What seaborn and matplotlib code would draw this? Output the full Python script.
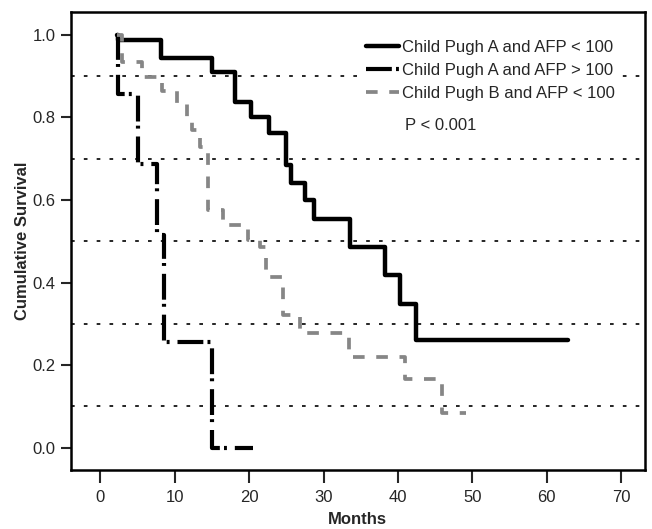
import numpy as np
import pandas as pd
import matplotlib
matplotlib.use('Agg')
import matplotlib.pyplot as plt
import seaborn as sns

# Kaplan-Meier steps (months, cumulative survival)
a_low_months = [2.2, 2.4, 8.1, 15.0, 18.1, 20.3, 22.7, 24.9, 25.6, 27.5, 28.7, 33.5, 38.3, 40.3, 42.4, 62.9]
a_low_surv = [1.0, 0.987, 0.943, 0.910, 0.838, 0.800, 0.761, 0.684, 0.642, 0.600, 0.555, 0.485, 0.418, 0.348, 0.260, 0.260]

a_high_months = [2.2, 2.4, 5.1, 7.6, 8.5, 15.0, 20.5]
a_high_surv = [1.0, 0.857, 0.686, 0.514, 0.257, 0.0, 0.0]

b_low_months = [2.2, 2.9, 5.6, 8.3, 10.3, 11.6, 12.3, 13.4, 14.5, 16.5, 19.9, 21.5, 22.3, 24.5, 26.8, 33.4, 40.9, 45.9, 49.2]
b_low_surv = [1.0, 0.935, 0.898, 0.865, 0.835, 0.800, 0.770, 0.728, 0.575, 0.539, 0.503, 0.485, 0.414, 0.321, 0.277, 0.220, 0.166, 0.085, 0.085]

group_labels = ['Child Pugh A and AFP < 100', 'Child Pugh A and AFP > 100', 'Child Pugh B and AFP < 100']
ref_levels = [0.1, 0.3, 0.5, 0.7, 0.9]
x_ticks = [0, 10, 20, 30, 40, 50, 60, 70]
y_ticks = [0.0, 0.2, 0.4, 0.6, 0.8, 1.0]

sns.set_style('white')
plt.rcParams['font.family'] = ['Liberation Sans', 'DejaVu Sans']

fig = plt.figure(figsize=(6.52, 5.29), dpi=100)
ax = fig.add_axes([0.1085, 0.1115, 0.8805, 0.8665])

styles = [
    dict(color='black', lw=3.2, linestyle='-'),
    dict(color='black', lw=3.0, linestyle=(0, (6.2, 1.0, 0.7, 1.9))),
    dict(color='#868686', lw=2.7, linestyle=(0, (3.1, 3.1))),
]
series = [(a_low_months, a_low_surv), (a_high_months, a_high_surv), (b_low_months, b_low_surv)]

# dotted reference lines
for lvl in ref_levels:
    ax.axhline(lvl, color='black', lw=1.2, linestyle=(0, (2.2, 5.5)), zorder=1)

for (months, surv), label, st in zip(series, group_labels, styles):
    df = pd.DataFrame({'Months': months, 'Survival': surv})
    sns.lineplot(data=df, x='Months', y='Survival', ax=ax, drawstyle='steps-post',
                 estimator=None, label=label, zorder=3, **st)

ax.set_xlim(-4, 73.2)
ax.set_ylim(-0.054, 1.056)
ax.set_xticks(x_ticks)
ax.set_yticks(y_ticks)
ax.set_yticklabels([f'{v:.1f}' for v in y_ticks])
ax.tick_params(axis='both', direction='out', width=1.5, labelsize=12, left=True, bottom=True)
ax.tick_params(axis='x', length=9.5, pad=5)
ax.tick_params(axis='y', length=7.5, pad=3.5)
for sp in ax.spines.values():
    sp.set_linewidth(1.8)
    sp.set_color('black')

ax.set_xlabel('Months', fontsize=12, fontweight='bold', labelpad=5)
ax.set_ylabel('Cumulative Survival', fontsize=12, fontweight='bold', labelpad=2)

handles, labels = ax.get_legend_handles_labels()
leg = ax.legend(handles, labels, loc='upper left', bbox_to_anchor=(0.491, 0.968), fontsize=12,
                handlelength=2.0, handletextpad=0.15, labelspacing=0.5, borderpad=0.3,
                frameon=True, facecolor='white', edgecolor='none', framealpha=1)
leg.set_zorder(5)

ax.text(0.582, 0.752, 'P < 0.001', transform=ax.transAxes, fontsize=12, ha='left', va='center')

fig.savefig('out.png', dpi=100)
